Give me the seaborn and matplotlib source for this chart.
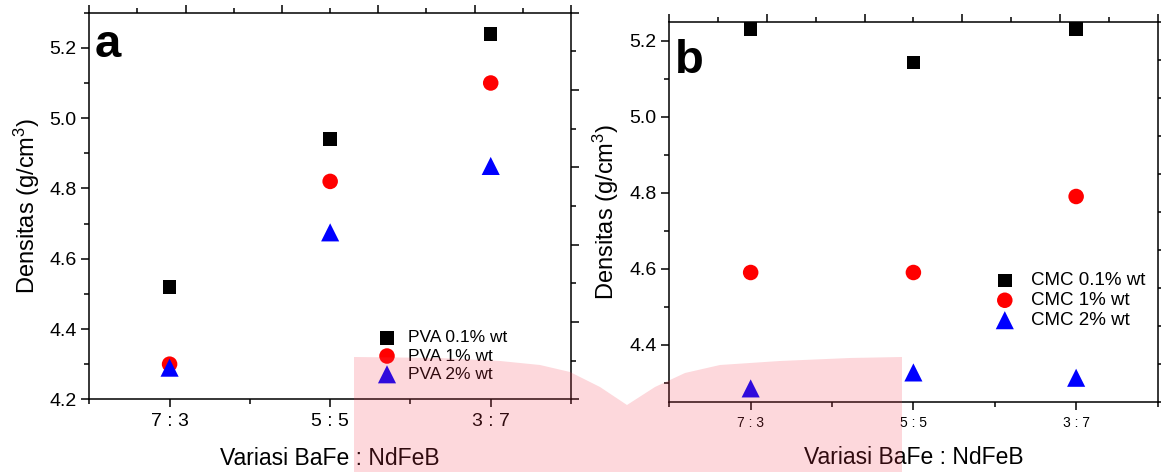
import numpy as np
import pandas as pd
import matplotlib
matplotlib.use("Agg")
import matplotlib.pyplot as plt
from matplotlib.patches import Polygon
from matplotlib.ticker import MultipleLocator, NullFormatter
import seaborn as sns

# data
ratios = ["7 : 3", "5 : 5", "3 : 7"]

pva_labels = ["PVA 0.1% wt", "PVA 1% wt", "PVA 2% wt"]
pva_01 = [4.52, 4.94, 5.24]
pva_1 = [4.30, 4.82, 5.10]
pva_2 = [4.29, 4.675, 4.864]

cmc_labels = ["CMC 0.1% wt", "CMC 1% wt", "CMC 2% wt"]
cmc_01 = [5.231, 5.143, 5.231]
cmc_1 = [4.59, 4.59, 4.79]
cmc_2 = [4.285, 4.327, 4.313]

colors = ["black", "red", "blue"]
markers = ["s", "o", "^"]
sizes = [95, 125, 170]


def long_table(labels, series):
    rows = []
    for lab, vals in zip(labels, series):
        for r, v in zip(ratios, vals):
            rows.append({"ratio": r, "series": lab, "dens": v})
    return pd.DataFrame(rows)


df_a = long_table(pva_labels, [pva_01, pva_1, pva_2])
df_b = long_table(cmc_labels, [cmc_01, cmc_1, cmc_2])

sns.set_theme(style="ticks")
plt.rcParams["font.family"] = ["Liberation Sans", "DejaVu Sans"]
plt.rcParams["mathtext.default"] = "regular"
plt.rcParams["axes.linewidth"] = 1.1
for key in ["text.color", "axes.labelcolor", "xtick.color", "ytick.color", "axes.edgecolor"]:
    plt.rcParams[key] = "black"

fig = plt.figure(figsize=(11.61, 4.72), dpi=100)
W, H = 1161, 472


def box(l, t, r, b):
    return [l / W, 1 - b / H, (r - l) / W, (b - t) / H]


ax_a = fig.add_axes(box(89.3, 12.7, 571, 399.3))
ax_b = fig.add_axes(box(669.3, 21.7, 1157.5, 401.7))


def draw_panel(ax, df, labels, ylim, tick_fs, xtick_fs, leg_fs, leg_pos, leg_tp, leg_sp, letter, letter_pos, xlab_pad):
    for lab, c, m, s in zip(labels, colors, markers, sizes):
        sub = df[df["series"] == lab]
        sns.scatterplot(data=sub, x="ratio", y="dens", color=c, marker=m, s=s,
                        edgecolor="none", linewidth=0, ax=ax, label=lab, zorder=3)
    ax.set_xlim(-0.5, 2.5)
    ax.set_ylim(*ylim)
    ax.yaxis.set_major_locator(MultipleLocator(0.2))
    ax.yaxis.set_minor_locator(MultipleLocator(0.1))
    ax.xaxis.set_minor_locator(MultipleLocator(0.5))
    ax.tick_params(which="major", direction="out", length=6, width=1.1, color="black")
    ax.tick_params(which="minor", direction="out", length=3.5, width=1.1, color="black")
    ax.tick_params(axis="y", labelsize=tick_fs, pad=3)
    ax.tick_params(axis="x", labelsize=xtick_fs, pad=4)
    ax.set_ylabel("Densitas (g/cm$^3$)", fontsize=17)
    ax.yaxis.set_label_coords(-0.098, 0.5)
    ax.set_xlabel("Variasi BaFe : NdFeB", fontsize=16.5, labelpad=xlab_pad)

    # top and right tick rows of the original frame
    tr = ax.twinx()
    tr.set_ylim(0, 1)
    tr.yaxis.set_major_locator(MultipleLocator(0.2))
    tr.yaxis.set_minor_locator(MultipleLocator(0.1))
    tr.yaxis.set_major_formatter(NullFormatter())
    tr.tick_params(which="major", direction="out", length=6, width=1.1)
    tr.tick_params(which="minor", direction="out", length=3.5, width=1.1)
    tt = ax.twiny()
    tt.set_xlim(0, 1)
    tt.xaxis.set_major_locator(MultipleLocator(0.2))
    tt.xaxis.set_minor_locator(MultipleLocator(0.1))
    tt.xaxis.set_major_formatter(NullFormatter())
    tt.tick_params(which="major", direction="out", length=6, width=1.1)
    tt.tick_params(which="minor", direction="out", length=3.5, width=1.1)
    for t in (tr, tt):
        t.grid(False)
        for sp in t.spines.values():
            sp.set_visible(False)

    ax.legend(loc="center left", bbox_to_anchor=leg_pos, frameon=False, fontsize=leg_fs,
              handlelength=1.0, handletextpad=leg_tp, labelspacing=leg_sp,
              borderpad=0, borderaxespad=0, markerscale=1.0)
    ax.text(letter_pos[0], letter_pos[1], letter, transform=ax.transAxes, fontsize=34,
            fontweight="bold", ha="left", va="baseline")


draw_panel(ax_a, df_a, pva_labels, (4.2, 5.3), 14, 14, 12.5, (0.6, 0.112), 0.7, 0.18,
           "a", (0.012, 0.885), 12)
draw_panel(ax_b, df_b, cmc_labels, (4.25, 5.25), 14, 10, 13.5, (0.668, 0.266), 0.9, 0.15,
           "b", (0.012, 0.865), 12)

# pink watermark ribbon across the bottom of the original image
ribbon = [(354, 472), (354, 357), (440, 358), (500, 361), (540, 365), (570, 372),
          (600, 387), (627, 405), (655, 387), (685, 373), (720, 365), (780, 361),
          (850, 358), (902, 357), (902, 472)]
poly = Polygon([(x / W, 1 - y / H) for x, y in ribbon], closed=True,
               transform=fig.transFigure, facecolor=(245 / 255, 60 / 255, 80 / 255),
               alpha=0.2, edgecolor="none", zorder=10)
fig.patches.append(poly)

fig.savefig("out.png", dpi=100)
